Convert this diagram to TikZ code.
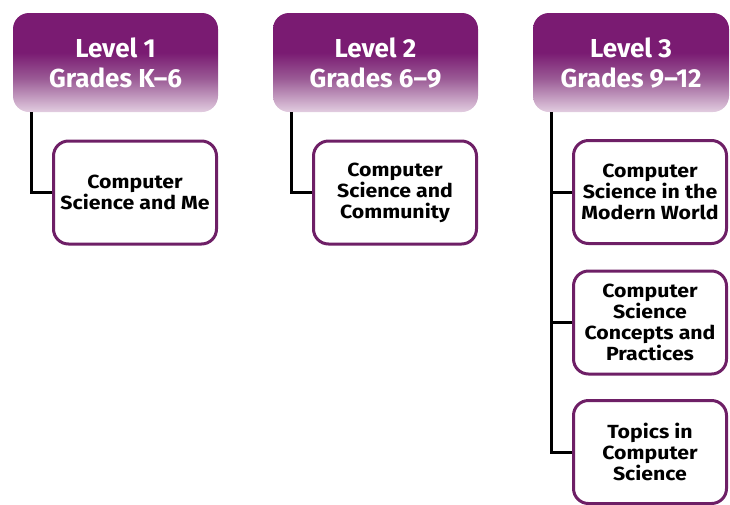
\documentclass[tikz,border=0pt]{standalone}
\usepackage{fontspec}
\setmainfont{Fira Sans}
\newfontfamily\coursefont{Fira Sans}[FakeStretch=1.12]
\usepackage{tikz}

\definecolor{lvldark}{HTML}{7A1B72}
\definecolor{lvlmid}{HTML}{9A5A95}
\definecolor{lvllight}{HTML}{E2CDE0}
\definecolor{boxline}{HTML}{6E1F66}
\pgfdeclareverticalshading{lvlshade}{100bp}{color(0bp)=(lvllight); color(25bp)=(lvllight); color(42bp)=(lvlmid); color(55bp)=(lvldark); color(100bp)=(lvldark)}

\begin{document}
\begin{tikzpicture}[
  x=1pt, y=-1pt,
  level/.style={rectangle, rounded corners=16pt, shading=lvlshade, minimum height=99pt,
    text=white, align=center, font=\fontsize{26}{30}\selectfont\bfseries},
  course/.style={rectangle, draw=boxline, line width=3pt, rounded corners=15pt, fill=white,
    minimum height=103pt, align=center, font=\coursefont\fontsize{19}{21}\selectfont\bfseries},
  link/.style={line width=3pt}
]
\useasboundingbox (0,0) rectangle (730,504);

% level headers
\node[level, minimum width=205pt] (h1) at (115.5,62.5) {Level 1\\Grades K--6};
\node[level, minimum width=205pt] (h2) at (375.5,62.5) {Level 2\\Grades 6--9};
\node[level, minimum width=196pt] (h3) at (631,62.5) {Level 3\\Grades 9--12};

% courses
\node[course, minimum width=163pt] (c1) at (135,192.5) {Computer\\Science and Me};
\node[course, minimum width=163pt] (c2) at (395,192.5) {Computer\\Science and\\Community};
\node[course, minimum width=153pt] (c3a) at (650,192) {Computer\\Science in the\\Modern World};
\node[course, minimum width=153pt] (c3b) at (650,322.5) {Computer\\Science\\Concepts and\\Practices};
\node[course, minimum width=153pt] (c3c) at (650,452) {Topics in\\Computer\\Science};

% connectors
\draw[link] (h1.south west) ++(19,0) |- (c1.west);
\draw[link] (h2.south west) ++(19,0) |- (c2.west);
\draw[link] (h3.south west) ++(19,0) |- (c3c.west);
\draw[link] (h3.south west) ++(19,0) |- (c3a.west);
\draw[link] (h3.south west) ++(19,0) |- (c3b.west);
\end{tikzpicture}
\end{document}
